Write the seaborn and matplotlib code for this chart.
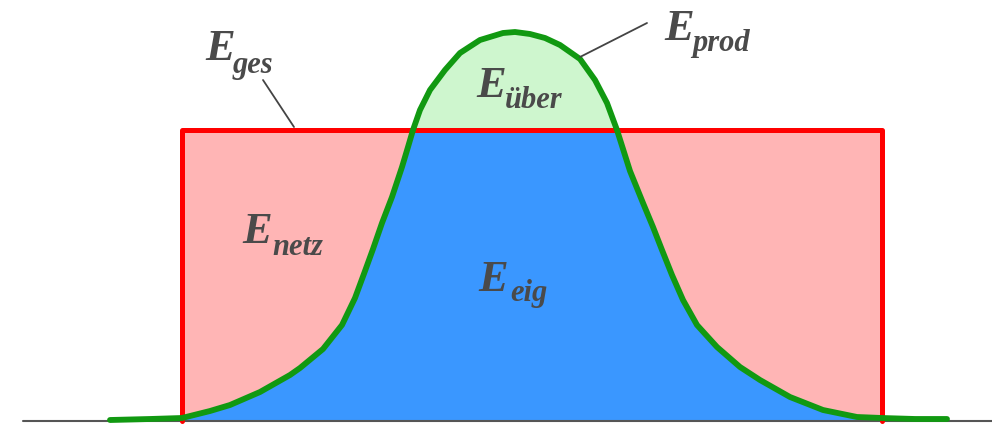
import numpy as np
import matplotlib
matplotlib.use("Agg")
import matplotlib.pyplot as plt
import seaborn as sns

# Production curve (PV output)
prod_x = [110, 150, 182, 210, 230, 260, 290, 300, 323, 342, 355, 365, 373, 382, 392,
          402, 408, 413, 420, 430, 445, 460, 480, 503, 515, 530, 545, 560, 580, 595, 607, 617,
          630, 643, 653, 662, 672, 683, 697, 717, 740, 760, 790, 823, 857, 882, 915, 947]
prod_y = [1, 2, 3, 10, 16, 29, 46, 53, 72, 96, 123, 150, 172, 198, 224,
          254, 274, 291, 311, 331, 351, 368, 381, 388, 389, 387, 383, 376, 362, 341, 318, 291,
          250, 218, 194, 171, 146, 121, 96, 74, 54, 41, 24, 11, 4, 3, 2, 2]

# Constant demand block
demand_x = [182, 182, 882, 882]
demand_y = [0, 291, 291, 0]
demand_level = 291

sns.set_style("white")
fig = plt.figure(figsize=(9.92, 4.26), dpi=100)
ax = fig.add_axes([0, 0, 1, 1])

px = np.array(prod_x)
py = np.array(prod_y)

# fills
ax.fill_between([demand_x[0], demand_x[-1]], 0, demand_level, color="#FFB5B5", lw=0)
ax.fill_between(px, 0, np.minimum(py, demand_level), color="#3A97FF", lw=0)
ax.fill_between(px, demand_level, py, where=py > demand_level, interpolate=True,
                color="#CEF6CE", lw=0)

# baseline
ax.plot([23, 992], [0, 0], color="#555555", lw=1.5)

sns.lineplot(x=demand_x, y=demand_y, sort=False, estimator=None, errorbar=None,
             color="#FF0000", lw=3.6, ax=ax)
sns.lineplot(x=prod_x, y=prod_y, sort=False, estimator=None, errorbar=None,
             color="#119911", lw=4.2, ax=ax)

# leader lines
ax.plot([263, 294], [341, 294], color="#444444", lw=1.3)
ax.plot([580, 647], [364, 398], color="#444444", lw=1.3)

font = dict(family=["Liberation Serif", "DejaVu Serif"], weight="bold", style="italic",
            color="#4a4a4a", va="baseline", ha="left")
labels = [
    (205, 361, 233, 348, "ges"),
    (664, 381, 692, 370, "prod"),
    (476, 324, 505, 313, "über"),
    (242, 178, 272, 166, "netz"),
    (478, 130, 510, 120, "eig"),
]
for ex, ey, sx, sy, sub in labels:
    ax.text(ex, ey, "E", fontsize=32, **font)
    ax.text(sx, sy, sub, fontsize=22, **font)

ax.set_xlim(0, 992)
ax.set_ylim(-5, 421)
ax.axis("off")

fig.savefig("out.png", dpi=100)
